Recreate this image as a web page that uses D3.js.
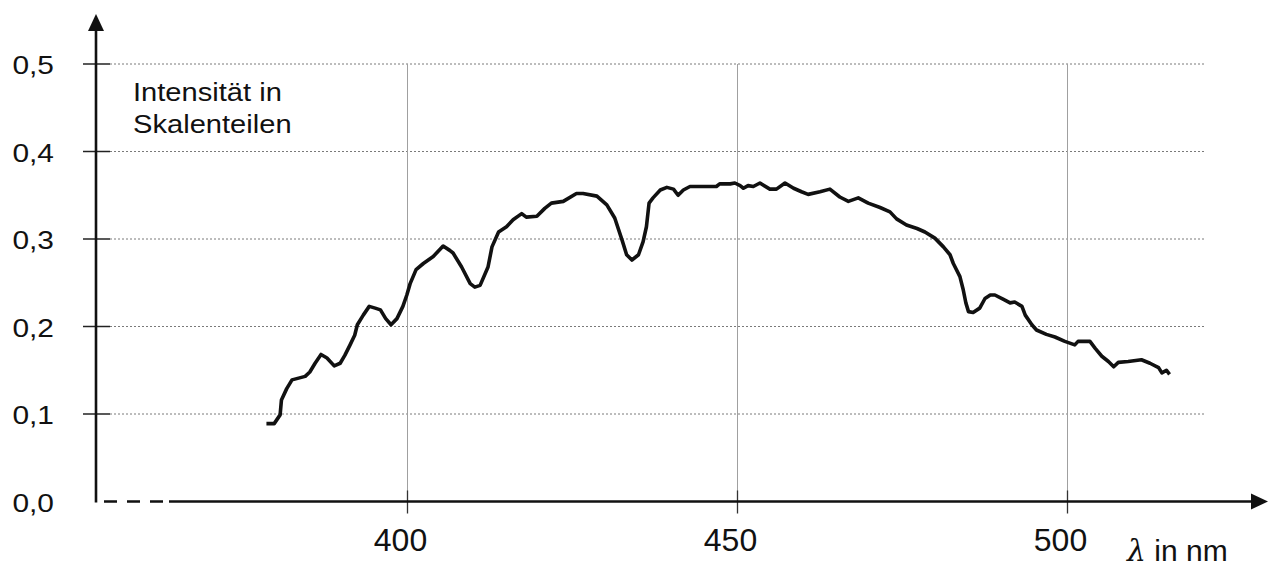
<!DOCTYPE html>
<html lang="de">
<head>
	<meta charset="utf-8">
	<title>Intensität in Skalenteilen</title>
	<script src="https://cdn.jsdelivr.net/npm/d3@7/dist/d3.min.js"></script>
	<style>
		body { margin: 0; background: #fff; }
		text { font-family: Arial, "Liberation Sans", sans-serif; fill: #111; }
	</style>
</head>
<body>
<div id="chart"></div>
<script type="text/javascript">

	// spectrum (wavelength in nm, intensity in Skalenteilen)
	var wavelength = [378.9, 379.8, 380.7, 380.9, 381.7, 382.5, 383.5, 384.5, 385.2, 386.0,
		386.9, 387.8, 388.9, 389.8, 390.5, 391.3, 392.0, 392.4, 393.3, 394.2,
		395.1, 395.9, 396.7, 397.5, 398.4, 399.3, 399.9, 400.4, 401.3, 402.4,
		403.9, 405.4, 406.4, 406.9, 408.2, 409.5, 410.2, 411.0, 412.2, 412.8,
		413.8, 415.0, 416.0, 417.3, 418.0, 419.6, 420.8, 421.8, 423.6, 425.6,
		426.6, 428.7, 430.2, 431.4, 432.5, 433.2, 434.0, 435.0, 435.7, 436.2,
		436.6, 437.2, 438.3, 439.3, 440.3, 441.0, 441.8, 442.8, 446.8, 447.3,
		448.9, 449.6, 450.4, 450.9, 451.6, 452.4, 453.4, 454.9, 455.9, 457.2,
		458.5, 459.7, 460.7, 462.5, 464.0, 465.5, 466.8, 468.3, 469.8, 471.6,
		473.1, 474.1, 475.6, 477.2, 478.4, 479.9, 481.2, 482.2, 482.7, 483.7,
		484.2, 484.6, 485.0, 485.7, 486.7, 487.5, 488.3, 489.0, 490.3, 491.3,
		492.0, 493.1, 493.6, 494.6, 495.3, 496.8, 498.1, 499.6, 501.1, 501.6,
		503.4, 504.2, 505.2, 506.2, 507.0, 507.7, 509.2, 511.2, 512.5, 513.8,
		514.3, 515.0, 515.3];
	var intensity = [0.089, 0.089, 0.099, 0.116, 0.129, 0.139, 0.141, 0.143, 0.148, 0.158,
		0.168, 0.164, 0.155, 0.158, 0.167, 0.179, 0.190, 0.202, 0.213, 0.223,
		0.221, 0.219, 0.209, 0.202, 0.209, 0.223, 0.236, 0.249, 0.265, 0.272,
		0.280, 0.292, 0.287, 0.284, 0.268, 0.249, 0.245, 0.247, 0.268, 0.291,
		0.308, 0.314, 0.322, 0.329, 0.325, 0.326, 0.335, 0.341, 0.343, 0.352,
		0.352, 0.349, 0.339, 0.324, 0.299, 0.282, 0.276, 0.282, 0.297, 0.314,
		0.341, 0.347, 0.356, 0.359, 0.357, 0.350, 0.356, 0.360, 0.360, 0.363,
		0.363, 0.364, 0.361, 0.358, 0.361, 0.360, 0.364, 0.357, 0.357, 0.364,
		0.358, 0.354, 0.351, 0.354, 0.357, 0.348, 0.343, 0.347, 0.341, 0.336,
		0.331, 0.323, 0.316, 0.312, 0.308, 0.301, 0.291, 0.282, 0.272, 0.257,
		0.242, 0.227, 0.217, 0.216, 0.221, 0.232, 0.236, 0.236, 0.231, 0.227,
		0.228, 0.223, 0.213, 0.202, 0.196, 0.191, 0.188, 0.183, 0.179, 0.183,
		0.183, 0.175, 0.166, 0.160, 0.154, 0.159, 0.160, 0.162, 0.158, 0.153,
		0.147, 0.150, 0.147];

	// axis ticks and their labels
	var yTicks = [0, 0.1, 0.2, 0.3, 0.4, 0.5];
	var yTickLabels = ["0,0", "0,1", "0,2", "0,3", "0,4", "0,5"];
	var gridTicks = [0.1, 0.2, 0.3, 0.4, 0.5];
	var xTicks = [400, 450, 500];

	var width = 1269, height = 567;
	var axisX = 96;        // where the vertical axis sits
	var axisY = 501.5;     // where the horizontal axis sits
	var gridRight = 1205;

	var xScale = d3.scaleLinear().domain([400, 500]).range([407.5, 1067.5]);
	var yScale = d3.scaleLinear().domain([0, 0.5]).range([axisY, 64]);

	var svg = d3.select("#chart")
		.append("svg")
		.attr("width", width)
		.attr("height", height)
		.style("display", "block");

	// horizontal dotted grid
	svg.selectAll(".hgrid")
		.data(gridTicks)
		.enter()
			.append("line")
			.attr("class", "hgrid")
			.attr("x1", axisX + 14)
			.attr("x2", gridRight)
			.attr("y1", function(d){ return yScale(d); })
			.attr("y2", function(d){ return yScale(d); })
			.attr("stroke", "#7a7a7a")
			.attr("stroke-width", 1)
			.attr("stroke-dasharray", "2,2");

	// vertical grid lines
	svg.selectAll(".vgrid")
		.data(xTicks)
		.enter()
			.append("line")
			.attr("class", "vgrid")
			.attr("x1", function(d){ return xScale(d); })
			.attr("x2", function(d){ return xScale(d); })
			.attr("y1", yScale(0.5))
			.attr("y2", axisY)
			.attr("stroke", "#a0a0a0")
			.attr("stroke-width", 1);

	// x ticks crossing the axis
	svg.selectAll(".xtick")
		.data(xTicks)
		.enter()
			.append("line")
			.attr("class", "xtick")
			.attr("x1", function(d){ return xScale(d); })
			.attr("x2", function(d){ return xScale(d); })
			.attr("y1", axisY - 11)
			.attr("y2", axisY + 12)
			.attr("stroke", "#333")
			.attr("stroke-width", 1.3);

	// y ticks crossing the axis
	svg.selectAll(".ytick")
		.data(gridTicks)
		.enter()
			.append("line")
			.attr("class", "ytick")
			.attr("x1", axisX - 13)
			.attr("x2", axisX + 14)
			.attr("y1", function(d){ return yScale(d); })
			.attr("y2", function(d){ return yScale(d); })
			.attr("stroke", "#222")
			.attr("stroke-width", 1.5);

	// the axes themselves
	svg.append("line")
		.attr("x1", axisX).attr("x2", axisX)
		.attr("y1", axisY + 1).attr("y2", 28)
		.attr("stroke", "#111").attr("stroke-width", 2.6);
	svg.append("polygon")
		.attr("points", axisX + ",14 " + (axisX - 8) + ",31 " + (axisX + 8) + ",31")
		.attr("fill", "#111");

	// broken start of the x axis
	svg.append("line")
		.attr("x1", 104).attr("x2", 163)
		.attr("y1", axisY).attr("y2", axisY)
		.attr("stroke", "#111").attr("stroke-width", 2.6)
		.attr("stroke-dasharray", "13,10");
	svg.append("line")
		.attr("x1", 169).attr("x2", 1254)
		.attr("y1", axisY).attr("y2", axisY)
		.attr("stroke", "#111").attr("stroke-width", 2.6);
	svg.append("polygon")
		.attr("points", "1268," + axisY + " 1251," + (axisY - 8) + " 1251," + (axisY + 8))
		.attr("fill", "#111");

	// the spectrum
	var line = d3.line()
		.x(function(d){ return xScale(d[0]); })
		.y(function(d){ return yScale(d[1]); });

	svg.append("path")
		.datum(d3.zip(wavelength, intensity))
		.attr("d", line)
		.attr("fill", "none")
		.attr("stroke", "#111")
		.attr("stroke-width", 3.6)
		.attr("stroke-linejoin", "round")
		.attr("stroke-linecap", "square");

	// y labels (the original text is a bit wide, so stretch it)
	svg.selectAll(".ylabel")
		.data(yTicks)
		.enter()
			.append("g")
			.attr("class", "ylabel")
			.attr("transform", function(d){ return "translate(54," + (yScale(d) + 10) + ") scale(1.15,1)"; })
			.append("text")
			.attr("text-anchor", "end")
			.style("font-size", "26px")
			.text(function(d, i){ return yTickLabels[i]; });

	// x labels
	svg.selectAll(".xlabel")
		.data(xTicks)
		.enter()
			.append("text")
			.attr("class", "xlabel")
			.attr("x", function(d){ return xScale(d) - 7; })
			.attr("y", 551)
			.attr("text-anchor", "middle")
			.style("font-size", "32px")
			.text(function(d){ return d; });

	// axis titles
	var ytitle = svg.append("g")
		.attr("transform", "translate(133,101) scale(1.12,1)");
	ytitle.append("text")
		.style("font-size", "26px")
		.text("Intensität in");
	ytitle.append("text")
		.attr("y", 32)
		.style("font-size", "26px")
		.text("Skalenteilen");

	var xtitle = svg.append("text")
		.attr("x", 1127)
		.attr("y", 561)
		.style("font-size", "30px");
	xtitle.append("tspan")
		.style("font-family", "'DejaVu Serif', serif")
		.style("font-style", "italic")
		.text("λ");
	xtitle.append("tspan")
		.text(" in nm");

</script>
</body>
</html>
